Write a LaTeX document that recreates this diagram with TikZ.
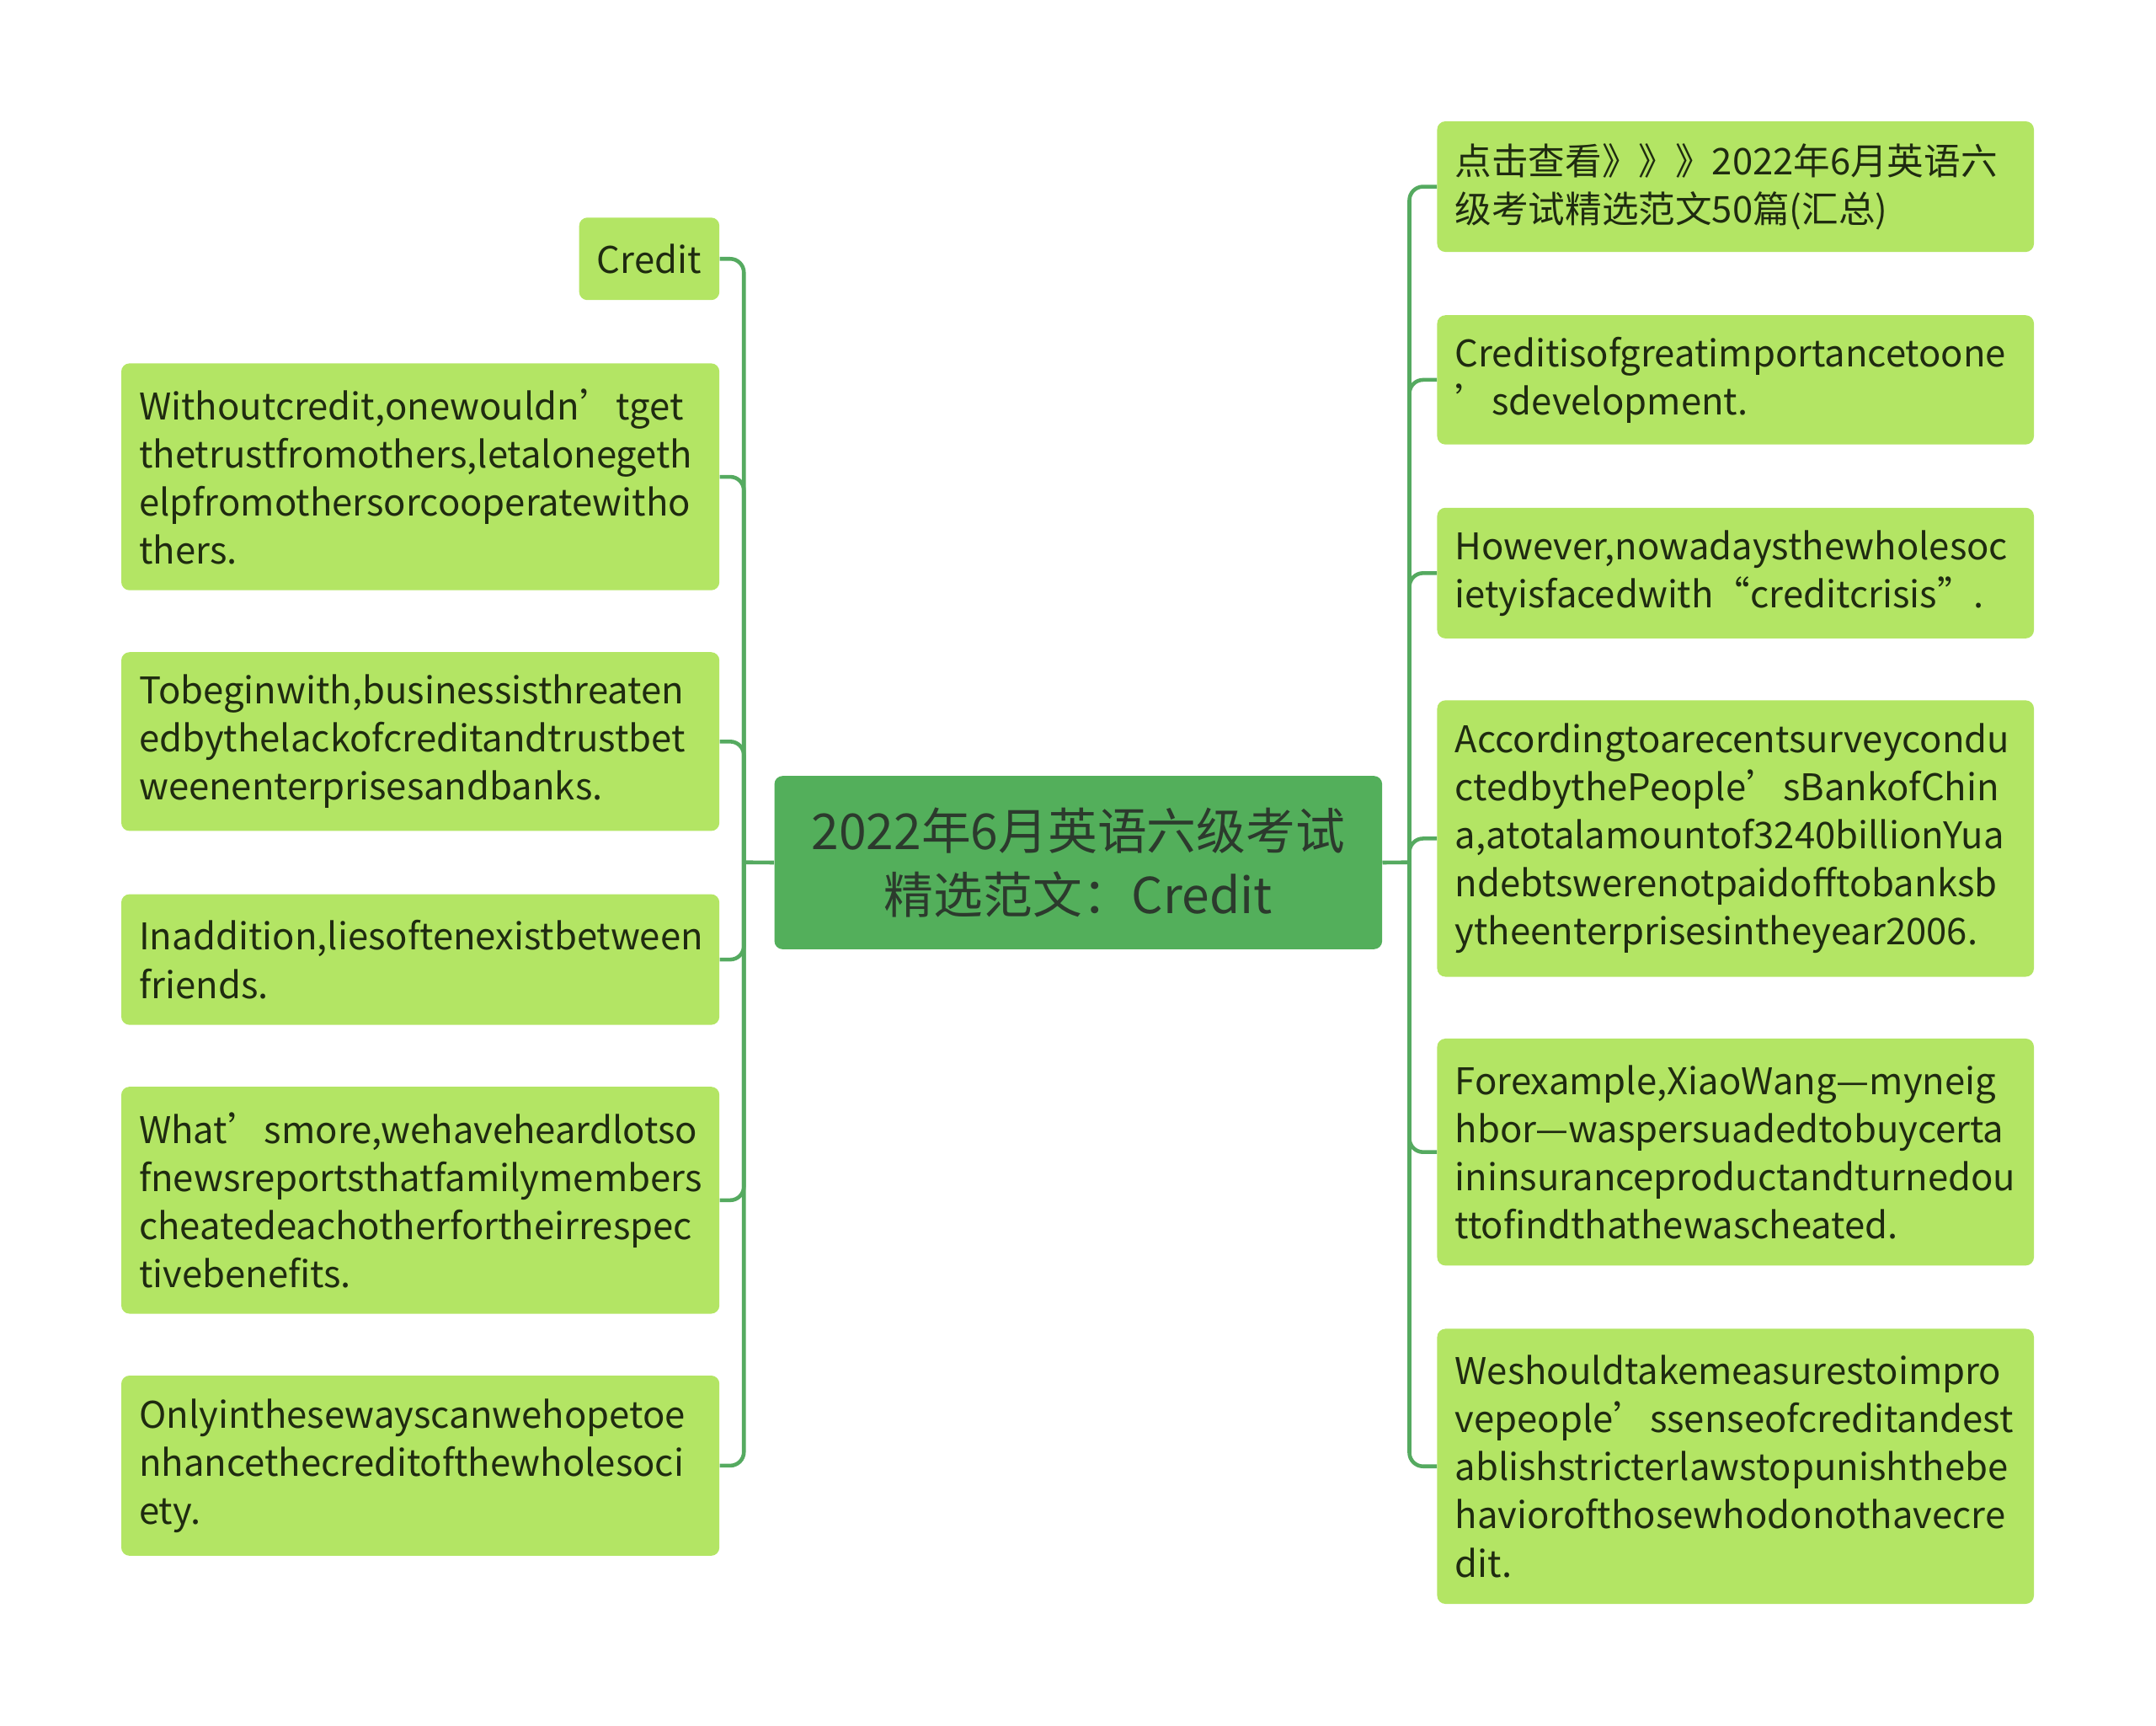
\documentclass[tikz,border=0pt]{standalone}
\usepackage{fontspec}
\setmainfont{Noto Sans CJK SC}
\definecolor{rootfill}{HTML}{53AF5B}
\definecolor{leaffill}{HTML}{B3E564}
\definecolor{conn}{HTML}{55AA60}
\definecolor{roottext}{HTML}{2C3A2D}
\definecolor{leaftext}{HTML}{1F2B10}
\begin{document}
\begin{tikzpicture}[x=1pt,y=-1pt,
  leaf/.style={fill=leaffill, rounded corners=6pt, text=leaftext, align=left,
    anchor=north west, inner xsep=13pt, inner ysep=0pt,
    font=\fontsize{26.7}{35}\selectfont},
  root/.style={fill=rootfill, rounded corners=6pt, text=roottext, align=center,
    anchor=north west, inner sep=0pt, font=\fontsize{36}{47}\selectfont},
  link/.style={draw=conn, line width=2.8pt, rounded corners=10pt}]
\useasboundingbox (0,0) rectangle (1568,1255);
% root
\node[root, minimum width=442pt, minimum height=126pt] (c) at (563,564) {2022年6月英语六级考试\\精选范文：Credit};
% left
\node[leaf, minimum width=102pt, minimum height=60pt, text width=76pt] (l1) at (421,158) {Credit};
\node[leaf, minimum width=435pt, minimum height=165pt, text width=409pt] (l2) at (88,264) {Withoutcredit,onewouldn’tget\\thetrustfromothers,letalonegeth\\elpfromothersorcooperatewitho\\thers.};
\node[leaf, minimum width=435pt, minimum height=130pt, text width=409pt] (l3) at (88,474) {Tobeginwith,businessisthreaten\\edbythelackofcreditandtrustbet\\weenenterprisesandbanks.};
\node[leaf, minimum width=435pt, minimum height=95pt, text width=409pt] (l4) at (88,650) {Inaddition,liesoftenexistbetween\\friends.};
\node[leaf, minimum width=435pt, minimum height=165pt, text width=409pt] (l5) at (88,790) {What’smore,wehaveheardlotso\\fnewsreportsthatfamilymembers\\cheatedeachotherfortheirrespec\\tivebenefits.};
\node[leaf, minimum width=435pt, minimum height=131pt, text width=409pt] (l6) at (88,1000) {Onlyinthesewayscanwehopetoe\\nhancethecreditofthewholesoci\\ety.};
% right
\node[leaf, minimum width=434pt, minimum height=95pt, text width=408pt] (r1) at (1045,88) {点击查看》》》2022年6月英语六\\级考试精选范文50篇(汇总)};
\node[leaf, minimum width=434pt, minimum height=94pt, text width=408pt] (r2) at (1045,229) {Creditisofgreatimportancetoone\\’sdevelopment.};
\node[leaf, minimum width=434pt, minimum height=95pt, text width=408pt] (r3) at (1045,369) {However,nowadaysthewholesoc\\ietyisfacedwith“creditcrisis”.};
\node[leaf, minimum width=434pt, minimum height=201pt, text width=408pt] (r4) at (1045,509) {Accordingtoarecentsurveycondu\\ctedbythePeople’sBankofChin\\a,atotalamountof3240billionYua\\ndebtswerenotpaidofftobanksb\\ytheenterprisesintheyear2006.};
\node[leaf, minimum width=434pt, minimum height=165pt, text width=408pt] (r5) at (1045,755) {Forexample,XiaoWang—myneig\\hbor—waspersuadedtobuycerta\\ininsuranceproductandturnedou\\ttofindthathewascheated.};
\node[leaf, minimum width=434pt, minimum height=200pt, text width=408pt] (r6) at (1045,966) {Weshouldtakemeasurestoimpro\\vepeople’ssenseofcreditandest\\ablishstricterlawstopunishthebe\\haviorofthosewhodonothavecre\\dit.};
% junctions
\coordinate (jl) at (541,627);
\coordinate (jr) at (1025,627);
\draw[link] (c.west) -- (jl);
\draw[link] (c.east) -- (jr);
\foreach \n in {l1,l2,l3,l4,l5,l6} \draw[link] (jl) |- (\n.east);
\foreach \n in {r1,r2,r3,r4,r5,r6} \draw[link] (jr) |- (\n.west);
\end{tikzpicture}
\end{document}
